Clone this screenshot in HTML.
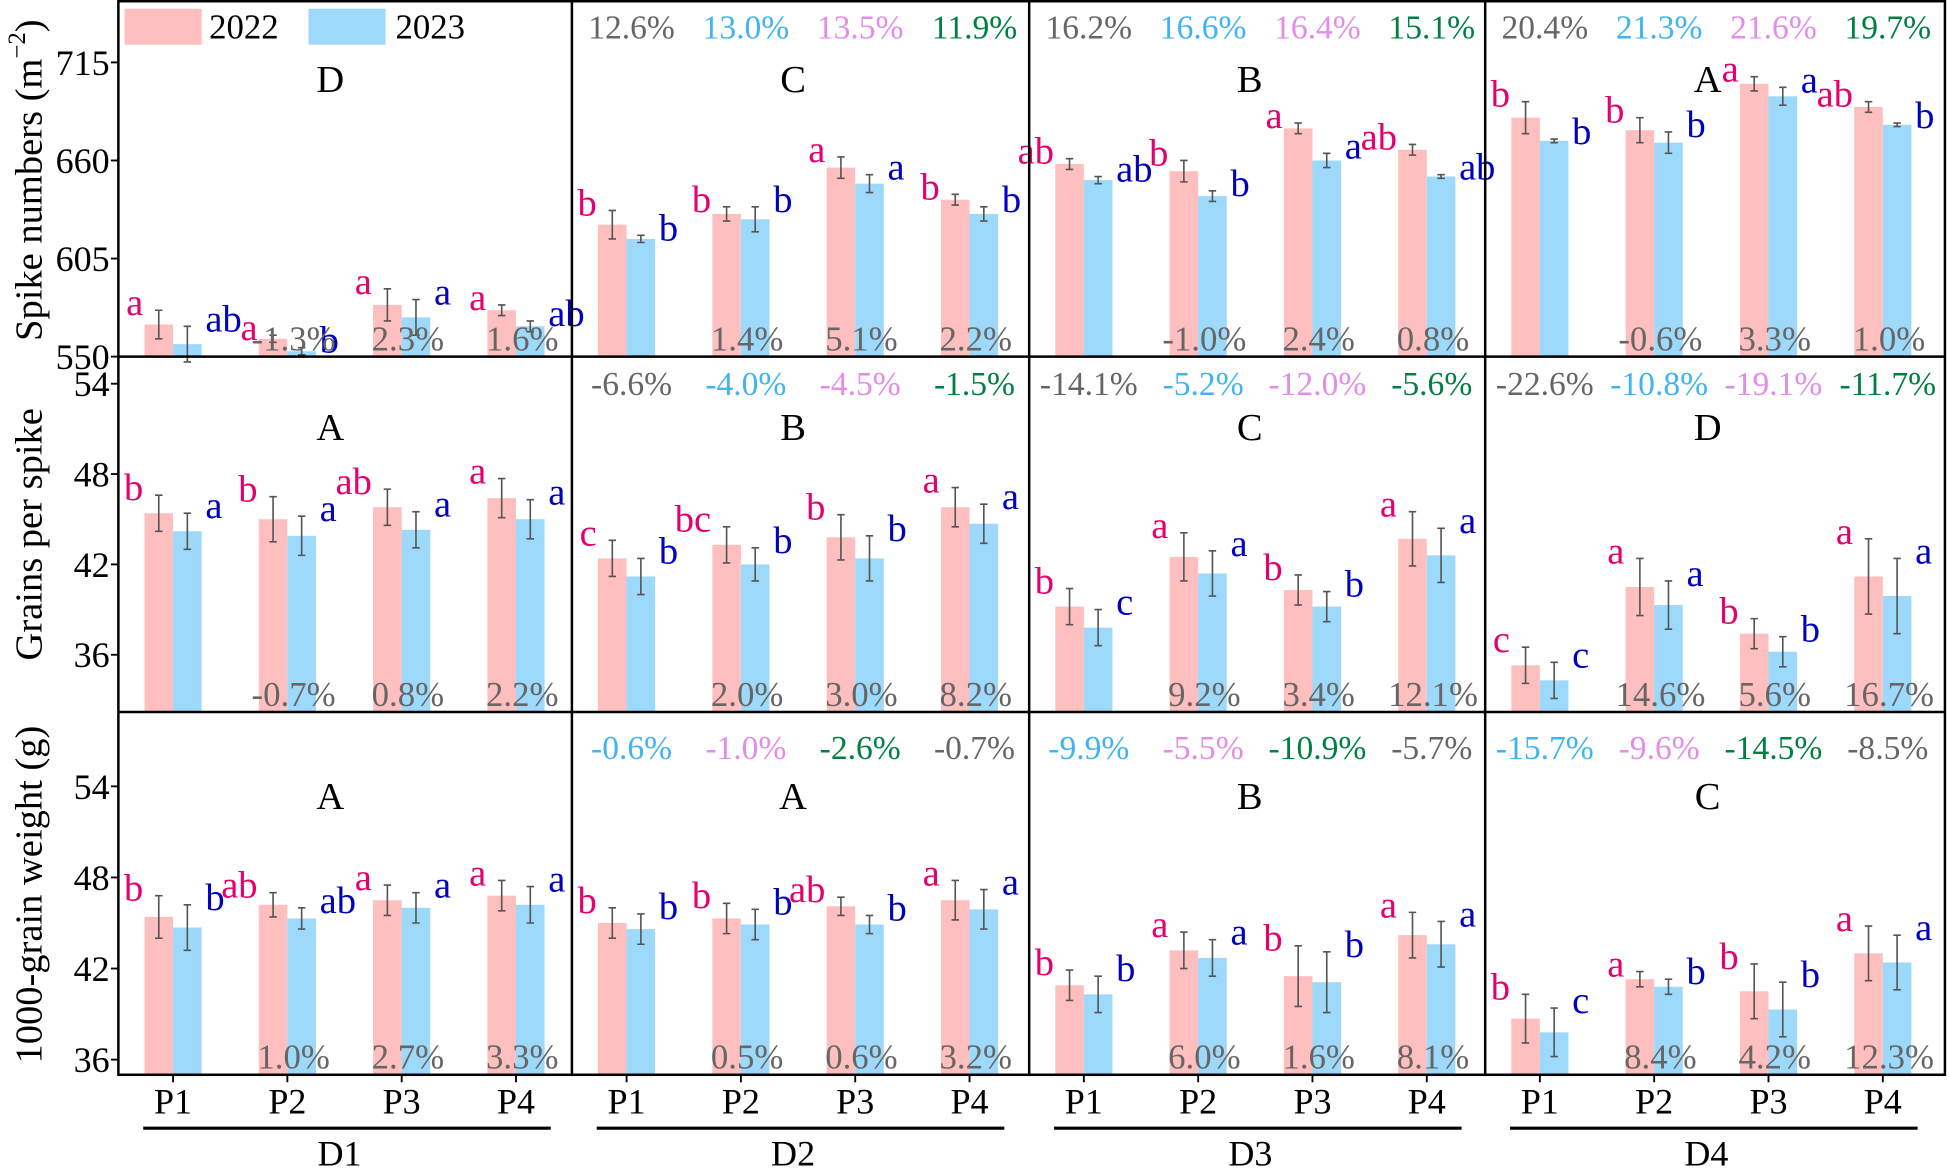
<!DOCTYPE html>
<html><head><meta charset="utf-8"><style>
html,body{margin:0;padding:0;background:#fff;}
svg{display:block;font-family:"Liberation Serif",serif;}
</style></head><body>
<svg id="chart" width="1949" height="1168" viewBox="0 0 1568 940" xmlns="http://www.w3.org/2000/svg">
<g id="root"></g>
</svg>
<script>
// ---- data ----
const densities = ["D1","D2","D3","D4"];
const treatments = ["P1","P2","P3","P4"];
// Row 1: spike numbers
const spike2022 = [[568,560,579,576],[624,630,656,638],[658,654,678,666],[684,677,703,690]];
const spike2023 = [[557,553,572,567],[616,627,647,630],[649,640,660,651],[671,670,696,680]];
const spikeErr2022 = [[8,2,9,3],[8,4,6,3],[3,6,3,3],[9,7,4,3]];
const spikeErr2023 = [[10,2,10,3],[2,7,5,4],[2,3,4,1],[1,6,5,1]];
// Row 2: grains per spike
const grain2022 = [[45.4,45.0,45.8,46.4],[42.4,43.3,43.8,45.8],[39.2,42.5,40.3,43.7],[35.3,40.5,37.4,41.2]];
const grain2023 = [[44.2,43.9,44.3,45.0],[41.2,42.0,42.4,44.7],[37.8,41.4,39.2,42.6],[34.3,39.3,36.2,39.9]];
const grainErr2022 = [[1.2,1.5,1.2,1.3],[1.2,1.2,1.5,1.3],[1.2,1.6,1.0,1.8],[1.2,1.9,1.0,2.5]];
const grainErr2023 = [[1.2,1.3,1.2,1.3],[1.2,1.1,1.5,1.3],[1.2,1.5,1.0,1.8],[1.2,1.6,1.0,2.5]];
// Row 3: 1000-grain weight
const tgw2022 = [[45.4,46.2,46.5,46.8],[45.0,45.3,46.1,46.5],[40.9,43.2,41.5,44.2],[38.7,41.3,40.5,43.0]];
const tgw2023 = [[44.7,45.3,46.0,46.2],[44.6,44.9,44.9,45.9],[40.3,42.7,41.1,43.6],[37.8,40.8,39.3,42.4]];
const tgwErr2022 = [[1.4,0.8,1.0,1.0],[1.0,1.0,0.6,1.3],[1.0,1.2,2.0,1.5],[1.6,0.5,1.8,1.8]];
const tgwErr2023 = [[1.5,0.7,1.0,1.2],[1.0,1.0,0.6,1.3],[1.2,1.2,2.0,1.5],[1.6,0.5,1.8,1.8]];
// significance letters
const spikeLet2022 = [["a","a","a","a"],["b","b","a","b"],["ab","b","a","ab"],["b","b","a","ab"]];
const spikeLet2023 = [["ab","b","a","ab"],["b","b","a","b"],["ab","b","a","ab"],["b","b","a","b"]];
const grainLet2022 = [["b","b","ab","a"],["c","bc","b","a"],["b","a","b","a"],["c","a","b","a"]];
const grainLet2023 = [["a","a","a","a"],["b","b","b","a"],["c","a","b","a"],["c","a","b","a"]];
const tgwLet2022 = [["b","ab","a","a"],["b","b","ab","a"],["b","a","b","a"],["b","a","b","a"]];
const tgwLet2023 = [["b","ab","a","a"],["b","b","b","a"],["b","a","b","a"],["c","b","b","a"]];
// panel letters
const spikePanel = ["D","C","B","A"];
const grainPanel = ["A","B","C","D"];
const tgwPanel = ["A","A","B","C"];
// bottom percentages (P2..P4)
const spikePct = [["-1.3%","2.3%","1.6%"],["1.4%","5.1%","2.2%"],["-1.0%","2.4%","0.8%"],["-0.6%","3.3%","1.0%"]];
const grainPct = [["-0.7%","0.8%","2.2%"],["2.0%","3.0%","8.2%"],["9.2%","3.4%","12.1%"],["14.6%","5.6%","16.7%"]];
const tgwPct = [["1.0%","2.7%","3.3%"],["0.5%","0.6%","3.2%"],["6.0%","1.6%","8.1%"],["8.4%","4.2%","12.3%"]];
// top percentages (per column D2..D4)
const spikeTop = [null,["12.6%","13.0%","13.5%","11.9%"],["16.2%","16.6%","16.4%","15.1%"],["20.4%","21.3%","21.6%","19.7%"]];
const grainTop = [null,["-6.6%","-4.0%","-4.5%","-1.5%"],["-14.1%","-5.2%","-12.0%","-5.6%"],["-22.6%","-10.8%","-19.1%","-11.7%"]];
const tgwTop = [null,["-0.6%","-1.0%","-2.6%","-0.7%"],["-9.9%","-5.5%","-10.9%","-5.7%"],["-15.7%","-9.6%","-14.5%","-8.5%"]];
const spikeTicks = [550,605,660,715];
const grainTicks = [36,42,48,54];
const tgwTicks = [36,42,48,54];

// ---- layout ----
const NS="http://www.w3.org/2000/svg";
const root=document.getElementById('root');
function el(tag,attrs,parent,text){const e=document.createElementNS(NS,tag);for(const k in attrs)e.setAttribute(k,attrs[k]);if(text!==undefined)e.textContent=text;(parent||root).appendChild(e);return e;}
const colX=[95,460,828,1195,1565];
const PINK="#ffbfbf", BLUE="#9dd9fa", LP="#e6006e", LB="#0000c0";
const topCols=["#666666","#3fb4f0","#e38ce8","#008040"];
const topColsR3=["#3fb4f0","#e38ce8","#008040","#666666"];
const rows=[
 {name:"spike",y0:0,y1:287,min:550,max:750,v22:spike2022,v23:spike2023,e22:spikeErr2022,e23:spikeErr2023,l22:spikeLet2022,l23:spikeLet2023,panel:spikePanel,pct:spikePct,top:spikeTop,ticks:spikeTicks,tc:topCols,ply:64,tpy:31,title:"Spike numbers (m",sup:"−2",tcy:145},
 {name:"grain",y0:287,y1:573,min:32.2,max:55.8,v22:grain2022,v23:grain2023,e22:grainErr2022,e23:grainErr2023,l22:grainLet2022,l23:grainLet2023,panel:grainPanel,pct:grainPct,top:grainTop,ticks:grainTicks,tc:topCols,ply:344,tpy:318,title:"Grains per spike",tcy:430},
 {name:"tgw",y0:573,y1:865,min:35.0,max:58.9,v22:tgw2022,v23:tgw2023,e22:tgwErr2022,e23:tgwErr2023,l22:tgwLet2022,l23:tgwLet2023,panel:tgwPanel,pct:tgwPct,top:tgwTop,ticks:tgwTicks,tc:topColsR3,ply:641,tpy:611,title:"1000-grain weight (g)",tcy:720}
];
rows.forEach((r,ri)=>{
  const ys=v=>r.y1-(v-r.min)/(r.max-r.min)*(r.y1-r.y0);
  const g=el('g',{});
  
  
  r.ticks.forEach(t=>{
    const y=ys(t);
    const tl=el('line',{x1:89,x2:95,y1:y,y2:y,stroke:"#000","stroke-width":1.5},g);
    
    
    const tx=el('text',{x:88,y:y+10,"text-anchor":"end","font-size":29},g,String(t));
    
    
  });
  const at=el('text',{transform:`translate(33,${r.tcy}) rotate(-90)`,"text-anchor":"middle","font-size":31},g,r.title);
  
  
  if(r.sup){el('tspan',{"font-size":20,dy:-13},at,r.sup);el('tspan',{dy:13},at,")");}
  for(let c=0;c<4;c++){
    const px=colX[c];
    const pw=colX[c+1]-colX[c];
    const pl=el('text',{x:px+pw/2+(c==0?-12:-6),y:r.ply+10,"text-anchor":"middle","font-size":31},g,r.panel[c]);
    
    
    if(r.top[c]){
      r.top[c].forEach((s,k)=>{
        const t=el('text',{x:px+48+k*92,y:r.tpy,"text-anchor":"middle","font-size":27,fill:r.tc[k]},g,s);
        
        
      });
    }
    for(let i=0;i<4;i++){
      const cx=px+44+i*92;
      const bw=23;
      const vals=[r.v22[c][i],r.v23[c][i]],errs=[r.e22[c][i],r.e23[c][i]],lets=[r.l22[c][i],r.l23[c][i]];
      for(let s=0;s<2;s++){
        const x=s==0?cx-bw:cx;
        const yt=ys(vals[s]);
        const b=el('rect',{x:x,y:yt,width:bw,height:r.y1-yt,fill:s==0?PINK:BLUE},g);
        
        
        const ex=x+bw/2, ea=ys(vals[s]+errs[s]), eb=ys(vals[s]-errs[s]);
        const eg=el('path',{d:`M${ex},${ea}V${eb}M${ex-3},${ea}H${ex+3}M${ex-3},${eb}H${ex+3}`,stroke:"#555","stroke-width":1.3,fill:"none"},g);
        
        
        const lt=el('text',{x:s==0?x-1:x+bw+3,y:ea+4,"text-anchor":s==0?"end":"start","font-size":31,fill:s==0?LP:LB},g,lets[s]);
        
        
      }
      if(i>0){
        const pt=el('text',{x:cx+5,y:r.y1-5,"text-anchor":"middle","font-size":28,fill:"#666"},g,r.pct[c][i-1]);
        
        
      }
    }
  }
  const hl=el('line',{x1:95,x2:1565,y1:r.y1,y2:r.y1,stroke:"#000","stroke-width":2},g);
  
  
});
const fr=el('rect',{x:95,y:1,width:1470,height:864,fill:"none",stroke:"#000","stroke-width":2});


[460,828,1195].forEach(x=>{
  const l=el('line',{x1:x,x2:x,y1:0,y2:865,stroke:"#000","stroke-width":2});
  
  
});
for(let c=0;c<4;c++){
  const px=colX[c];
  for(let i=0;i<4;i++){
    const cx=px+44+i*92;
    const tk=el('line',{x1:cx,x2:cx,y1:865,y2:871,stroke:"#000","stroke-width":1.5});
    
    
    const t=el('text',{x:cx,y:896,"text-anchor":"middle","font-size":29},undefined,treatments[i]);
    
    
  }
  const ul=el('line',{x1:px+20,x2:px+348,y1:908,y2:908,stroke:"#000","stroke-width":2.5});
  
  
  const d=el('text',{x:px+178,y:938,"text-anchor":"middle","font-size":29},undefined,densities[c]);
  
  
}
const lg=el('g',{});


const r1=el('rect',{x:100,y:7,width:62,height:29,fill:PINK},lg);


const t1=el('text',{x:168,y:31,"font-size":28},lg,"2022");


const r2=el('rect',{x:248,y:7,width:62,height:29,fill:BLUE},lg);


const t2=el('text',{x:318,y:31,"font-size":28},lg,"2023");


</script>
</body></html>
